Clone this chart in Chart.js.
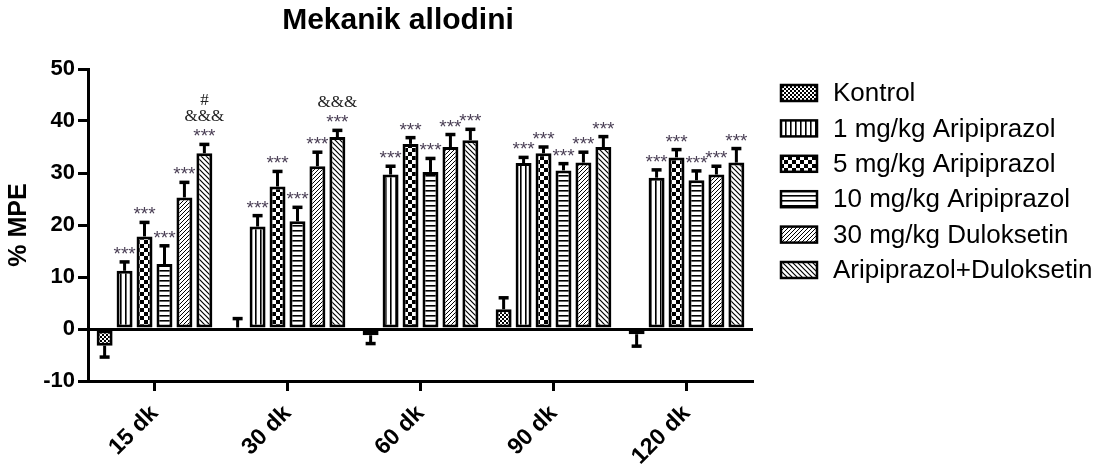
<!DOCTYPE html>
<html>
<head>
<meta charset="utf-8">
<script src="https://cdn.jsdelivr.net/npm/chart.js@4.4.0/dist/chart.umd.min.js"></script>
<style>
  html, body { margin: 0; padding: 0; background: #fff; }
  #wrap { width: 1104px; height: 467px; position: relative; }
</style>
</head>
<body>
<div id="wrap"><canvas id="c"></canvas></div>
<script>
// --- data ---
const categories = ['15 dk', '30 dk', '60 dk', '90 dk', '120 dk'];
const seriesNames = ['Kontrol', '1 mg/kg Aripiprazol', '5 mg/kg Aripiprazol',
  '10 mg/kg Aripiprazol', '30 mg/kg Duloksetin', 'Aripiprazol+Duloksetin'];

const kontrol    = [-3.2, 0.3, -1.2, 3.8, -1.0];
const kontrolErr = [2.2, 1.7, 1.6, 2.2, 2.3];
const aripi1     = [11.2, 19.7, 29.7, 31.9, 29.1];
const aripi1Err  = [1.7, 2.1, 1.6, 1.1, 1.5];
const aripi5     = [17.8, 27.4, 35.6, 33.8, 33.0];
const aripi5Err  = [2.7, 2.9, 1.2, 1.2, 1.5];
const aripi10    = [12.5, 20.7, 30.2, 30.5, 28.6];
const aripi10Err = [3.5, 2.7, 2.6, 1.3, 1.8];
const dulok30    = [25.3, 31.3, 35.0, 32.0, 29.7];
const dulok30Err = [2.9, 2.7, 2.4, 2.0, 1.6];
const combo      = [33.8, 36.9, 36.3, 35.0, 32.0];
const comboErr   = [1.7, 1.3, 2.1, 2.0, 2.7];

// significance marks (stars) and extra marks above the combo bars
const starMarks  = ['', '***', '***', '***', '***', '***'];
const comboExtra = [['&&&', '#'], ['&&&'], [], [], []];

const yTicks = [-10, 0, 10, 20, 30, 40, 50];

// --- hatch patterns (GraphPad style) ---
function makePattern(kind) {
  const c = document.createElement('canvas');
  const g = c.getContext('2d');
  let s = 4;
  if (kind === 'check') s = 8;
  if (kind === 'vert' || kind === 'horiz' || kind === 'diagDown') s = 5;
  c.width = s; c.height = s;
  g.fillStyle = '#fff';
  g.fillRect(0, 0, s, s);
  g.fillStyle = '#000';
  g.strokeStyle = '#000';
  if (kind === 'fine') {
    g.fillRect(0, 0, 2, 2);
    g.fillRect(2, 2, 2, 2);
  } else if (kind === 'vert') {
    g.fillRect(0, 0, 1.6, s);
  } else if (kind === 'horiz') {
    g.fillRect(0, 0, s, 1.6);
  } else if (kind === 'check') {
    g.fillRect(0, 0, 4, 4);
    g.fillRect(4, 4, 4, 4);
  } else if (kind === 'diagUp') {
    g.lineWidth = 1;
    g.beginPath();
    g.moveTo(-1, 1); g.lineTo(1, -1);
    g.moveTo(0, s); g.lineTo(s, 0);
    g.moveTo(s - 1, s + 1); g.lineTo(s + 1, s - 1);
    g.stroke();
  } else if (kind === 'diagDown') {
    g.lineWidth = 1.2;
    g.beginPath();
    g.moveTo(-1, s - 1); g.lineTo(1, s + 1);
    g.moveTo(0, 0); g.lineTo(s, s);
    g.moveTo(s - 1, -1); g.lineTo(s + 1, 1);
    g.stroke();
  }
  return g.createPattern(c, 'repeat');
}

const patterns = ['fine', 'vert', 'check', 'horiz', 'diagUp', 'diagDown'].map(makePattern);
const values = [kontrol, aripi1, aripi5, aripi10, dulok30, combo];
const errors = [kontrolErr, aripi1Err, aripi5Err, aripi10Err, dulok30Err, comboErr];

const datasets = seriesNames.map((name, i) => ({
  label: name,
  data: values[i],
  sem: errors[i],
  backgroundColor: patterns[i],
  borderColor: '#000',
  borderWidth: 3,
  borderSkipped: false,
  categoryPercentage: 0.9,
  barPercentage: 0.8
}));

// error bars: one-sided, away from zero, with a T cap
const errorBars = {
  id: 'errorBars',
  afterDatasetsDraw(chart) {
    const ctx = chart.ctx;
    const y = chart.scales.y;
    ctx.save();
    ctx.strokeStyle = '#000';
    chart.data.datasets.forEach((ds, i) => {
      const meta = chart.getDatasetMeta(i);
      meta.data.forEach((bar, j) => {
        const v = ds.data[j];
        const e = ds.sem[j];
        const y0 = y.getPixelForValue(v);
        const y1 = y.getPixelForValue(v >= 0 ? v + e : v - e);
        ctx.lineWidth = 3;
        ctx.beginPath();
        ctx.moveTo(bar.x, y0);
        ctx.lineTo(bar.x, y1);
        ctx.stroke();
        ctx.lineWidth = 3.5;
        ctx.beginPath();
        ctx.moveTo(bar.x - 5, y1);
        ctx.lineTo(bar.x + 5, y1);
        ctx.stroke();
      });
    });
    ctx.restore();
  }
};

// stars and other significance marks
const sigMarks = {
  id: 'sigMarks',
  afterDatasetsDraw(chart) {
    const ctx = chart.ctx;
    const y = chart.scales.y;
    ctx.save();
    ctx.textAlign = 'center';
    chart.data.datasets.forEach((ds, i) => {
      if (!starMarks[i]) return;
      const meta = chart.getDatasetMeta(i);
      meta.data.forEach((bar, j) => {
        const top = y.getPixelForValue(ds.data[j] + ds.sem[j]);
        ctx.fillStyle = '#4a3f55';
        ctx.font = '19px "Liberation Sans", Arial, sans-serif';
        ctx.textBaseline = 'alphabetic';
        ctx.fillText(starMarks[i], bar.x, top - 2);
        if (i === 5) {
          const centre = top - 12;
          ctx.fillStyle = '#222';
          ctx.font = '17px "Liberation Serif", "Times New Roman", serif';
          ctx.textBaseline = 'middle';
          comboExtra[j].forEach((m, k) => {
            ctx.fillText(m, bar.x, centre - 16 * (k + 1));
          });
        }
      });
    });
    ctx.restore();
  }
};

// title, y-axis title and legend
const decorations = {
  id: 'decorations',
  afterDraw(chart) {
    const ctx = chart.ctx;
    ctx.save();
    ctx.fillStyle = '#000';
    ctx.textAlign = 'center';
    ctx.textBaseline = 'middle';
    ctx.font = 'bold 30px "Liberation Sans", Arial, sans-serif';
    ctx.fillText('Mekanik allodini', 398, 21);

    ctx.save();
    ctx.translate(19, 225);
    ctx.rotate(-Math.PI / 2);
    ctx.font = 'bold 25px "Liberation Sans", Arial, sans-serif';
    ctx.fillText('% MPE', 0, 0);
    ctx.restore();

    ctx.textAlign = 'left';
    ctx.font = '26px "Liberation Sans", Arial, sans-serif';
    seriesNames.forEach((name, i) => {
      const cy = 93 + i * 35.4;
      ctx.fillStyle = patterns[i];
      ctx.fillRect(781, cy - 8, 36, 16);
      ctx.lineWidth = 2.5;
      ctx.strokeStyle = '#000';
      ctx.strokeRect(781, cy - 8, 36, 16);
      ctx.fillStyle = '#000';
      ctx.fillText(name, 833, cy + 1);
    });
    ctx.restore();
  }
};

new Chart(document.getElementById('c'), {
  type: 'bar',
  data: { labels: categories, datasets },
  options: {
    responsive: true,
    maintainAspectRatio: false,
    animation: false,
    layout: { padding: { top: 69, right: 351, bottom: 0, left: 0 } },
    plugins: {
      legend: { display: false },
      title: { display: false },
      tooltip: { enabled: false }
    },
    scales: {
      x: {
        afterFit: s => { s.height = 86; },
        border: { color: '#000', width: 3 },
        grid: {
          offset: false,
          drawOnChartArea: false,
          drawTicks: true,
          tickLength: 10,
          tickColor: '#000',
          tickWidth: 3
        },
        ticks: {
          color: '#000',
          font: { family: '"Liberation Sans", Arial, sans-serif', size: 23, weight: 'bold' },
          minRotation: 45,
          maxRotation: 45,
          padding: 9
        }
      },
      y: {
        min: yTicks[0],
        max: yTicks[yTicks.length - 1],
        afterFit: s => { s.width = 88; },
        afterBuildTicks: s => { s.ticks = yTicks.map(v => ({ value: v })); },
        border: { color: '#000', width: 3 },
        grid: {
          color: c => (c.tick && c.tick.value === 0 ? '#000' : 'rgba(0,0,0,0)'),
          lineWidth: 3,
          drawTicks: true,
          tickLength: 10,
          tickColor: '#000',
          tickWidth: 3
        },
        ticks: {
          color: '#000',
          font: { family: '"Liberation Sans", Arial, sans-serif', size: 22, weight: 'bold' },
          padding: 3
        }
      }
    }
  },
  plugins: [errorBars, sigMarks, decorations]
});
</script>
</body>
</html>
